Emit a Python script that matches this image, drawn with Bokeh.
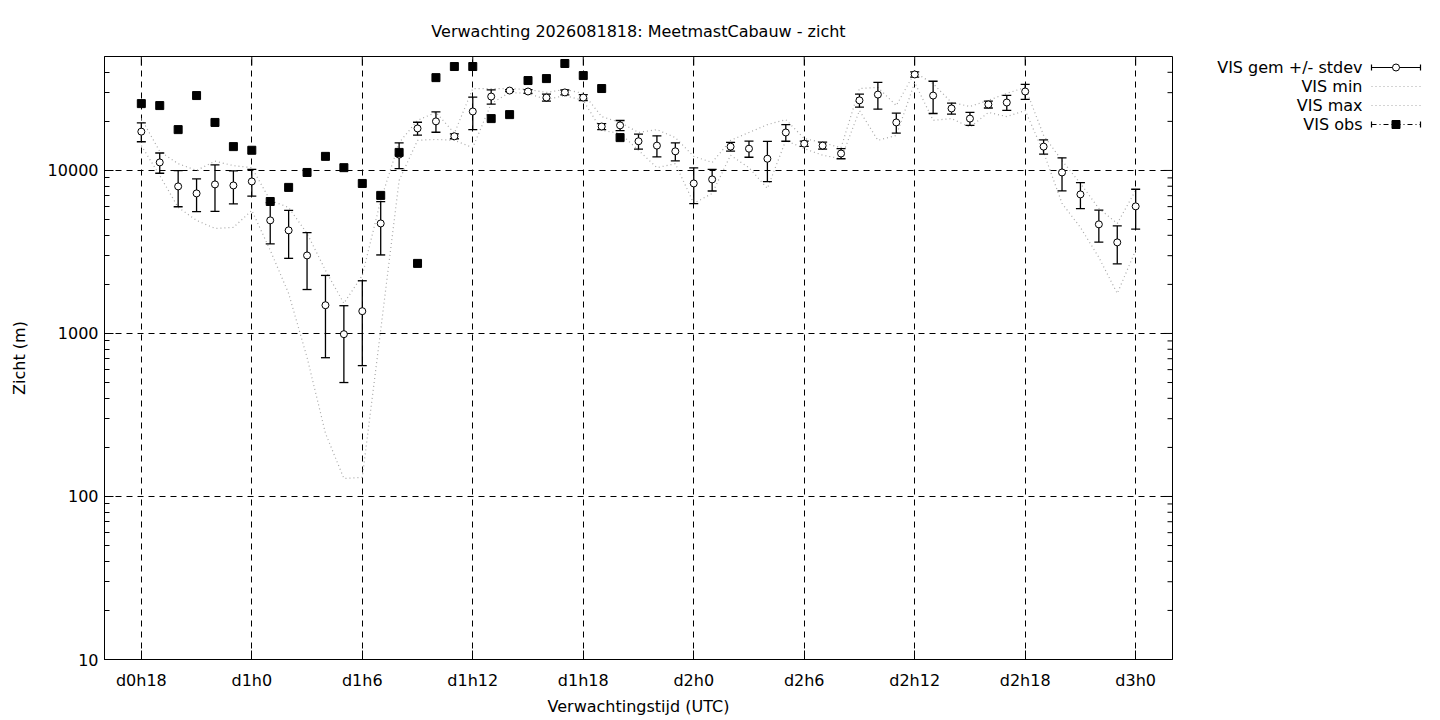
import math
from bokeh.plotting import figure
from bokeh.models import FixedTicker, Range1d, PrintfTickFormatter
from bokeh.layouts import row
from bokeh.embed import file_html
from bokeh.resources import INLINE
from bokeh.core.properties import value

# ---------------- data ----------------
hours = list(range(18, 73))
vis_mean = [17300, 11200, 7980, 7230, 8210, 8090, 8560, 4940, 4290, 3010,
            1490, 990, 1370, 4730, 12500, 18100, 20000, 16200, 23000, 28400,
            30900, 30500, 28000, 30100, 28000, 18600, 18900, 15100, 14200, 13100,
            8320, 8810, 14000, 13600, 11800, 17100, 14600, 14200, 12700, 26900,
            29200, 19700, 38800, 28800, 24000, 20800, 25400, 26100, 30500, 14000,
            9720, 7130, 4670, 3620, 6020]
vis_std = [2300, 1590, 1990, 1640, 2600, 1860, 1600, 1400, 1400, 1150,
           780, 490, 735, 1700, 2250, 1650, 2850, 550, 5200, 2850,
           400, 800, 1400, 1050, 1150, 800, 1350, 1600, 2100, 1650,
           2060, 1330, 850, 1550, 3270, 2000, 550, 700, 900, 2450,
           5450, 2750, 1400, 6450, 1850, 1900, 1250, 2750, 3250, 1400,
           2230, 1300, 1035, 945, 1650]
vis_min = [14200, 9310, 5930, 4940, 4410, 4470, 5690, 3240, 1760, 713,
           244, 129, 131, 1050, 8680, 15300, 15500, 15300, 13800, 25700,
           30100, 29700, 27200, 28800, 26900, 17600, 16900, 13300, 10400, 11000,
           6280, 7230, 12400, 10400, 7760, 15300, 13600, 12400, 11800, 23300,
           15300, 16400, 34600, 20300, 20800, 18400, 22700, 21400, 23300, 12900,
           6280, 4470, 2930, 1760, 3240]
vis_max = [20800, 13100, 11000, 10000, 11400, 10700, 10400, 6550, 5930, 4110,
           2440, 1530, 2270, 6550, 14800, 20300, 22700, 16900, 31800, 31800,
           31800, 31400, 30100, 31400, 29700, 21400, 19700, 17100, 17800, 15900,
           12200, 11200, 15300, 17100, 19100, 20500, 15700, 14800, 13800, 31800,
           32300, 25000, 39900, 34100, 26100, 24700, 26900, 29700, 32300, 16400,
           11500, 8320, 5850, 4730, 7540]
obs_hours = list(range(18, 45))
vis_obs = [25700, 25000, 17800, 28800, 19700, 14000, 13300, 6450, 7870, 9720,
           12200, 10400, 8320, 7030, 12900, 2690, 37100, 43400, 43400, 20800,
           22000, 35600, 36600, 45300, 38200, 31800, 15900]

xtick_pos = [18, 24, 30, 36, 42, 48, 54, 60, 66, 72]
xtick_labels = ["d0h18", "d1h0", "d1h6", "d1h12", "d1h18",
                "d2h0", "d2h6", "d2h12", "d2h18", "d3h0"]
ytick_pos = [10, 100, 1000, 10000]
legend_labels = ["VIS gem +/- stdev", "VIS min", "VIS max", "VIS obs"]
title_text = "Verwachting 2026081818: MeetmastCabauw - zicht"
xlabel = "Verwachtingstijd (UTC)"
ylabel = "Zicht (m)"

X0, X1 = 16, 74
Y0, Y1 = 10, 50000

# ---------------- layout / styling ----------------
FONT = "DejaVu Sans"
FS = "16px"
GRAY = "#a8a8a8"
BL, BT, BB, BR = 104, 56, 60, 8       # borders around the plot frame
FW, FH = 1068, 603                    # frame size
MAIN_W = BL + FW + BR
H = BT + FH + BB
LEG_W = 256

upper = [m + s for m, s in zip(vis_mean, vis_std)]
lower = [m - s for m, s in zip(vis_mean, vis_std)]
yminor = [m * d for d in ytick_pos for m in range(2, 10) if m * d < Y1]

p = figure(width=MAIN_W, height=H, y_axis_type="log",
           x_range=Range1d(X0, X1), y_range=Range1d(Y0, Y1),
           output_backend="svg", toolbar_location=None,
           min_border_left=BL, min_border_right=BR,
           min_border_top=BT, min_border_bottom=BB,
           title=title_text)
p.background_fill_color = "white"
p.border_fill_color = "white"
p.outline_line_color = "black"
p.outline_line_alpha = 1.0
p.outline_line_width = 1

p.title.align = "center"
p.title.text_font = FONT
p.title.text_font_size = FS
p.title.text_font_style = "normal"
p.title.text_color = "black"
p.title.standoff = 32

xticker = FixedTicker(ticks=xtick_pos)
yticker = FixedTicker(ticks=ytick_pos, minor_ticks=yminor)

xa = p.xaxis[0]
xa.ticker = xticker
xa.major_label_overrides = {t: l for t, l in zip(xtick_pos, xtick_labels)}
ya = p.yaxis[0]
ya.ticker = yticker
ya.formatter = PrintfTickFormatter(format="%d")

for ax in (xa, ya):
    ax.major_tick_in = 9
    ax.major_tick_out = 0
    ax.minor_tick_in = 5
    ax.minor_tick_out = 0
    ax.axis_line_color = "black"
    ax.major_tick_line_color = "black"
    ax.minor_tick_line_color = "black"
    ax.major_label_text_font = FONT
    ax.major_label_text_font_size = FS
    ax.major_label_text_color = "black"
    ax.axis_label_text_font = FONT
    ax.axis_label_text_font_size = FS
    ax.axis_label_text_font_style = "normal"
    ax.axis_label_text_color = "black"
xa.axis_label = xlabel
ya.axis_label = ylabel
xa.major_label_standoff = 11
xa.axis_label_standoff = 4
ya.major_label_standoff = 6
ya.axis_label_standoff = 16

for g in (p.xgrid[0], p.ygrid[0]):
    g.grid_line_color = "black"
    g.grid_line_dash = "6 5"
    g.grid_line_width = 1
    g.grid_line_alpha = 1.0
p.xgrid[0].ticker = xticker
p.ygrid[0].ticker = FixedTicker(ticks=ytick_pos)

# mirrored tick marks on the right and top border (half of each dash is clipped by the frame)
p.scatter([X1] * len(ytick_pos), ytick_pos, marker="dash", size=18, line_color="black", line_width=1)
p.scatter([X1] * len(yminor), yminor, marker="dash", size=10, line_color="black", line_width=1)
p.scatter(xtick_pos, [Y1] * len(xtick_pos), marker="dash", size=18, angle=math.pi / 2,
          line_color="black", line_width=1)

# min / max
p.line(hours, vis_min, line_color=GRAY, line_dash="1 3", line_width=1.2)
p.line(hours, vis_max, line_color=GRAY, line_dash="1 3", line_width=1.2)

# error bars
p.segment(x0=hours, y0=lower, x1=hours, y1=upper, line_color="black", line_width=1.3)
p.scatter(hours, upper, marker="dash", size=9, line_color="black", line_width=1.3)
p.scatter(hours, lower, marker="dash", size=9, line_color="black", line_width=1.3)
p.scatter(hours, vis_mean, marker="circle", size=7, fill_color="white",
          line_color="black", line_width=1)

# observations
p.scatter(obs_hours, vis_obs, marker="square", size=8, fill_color="black", line_color="black")

# ---------------- legend panel (its frame spans the same rows as the main frame;
# coordinates are page pixels) ----------------
lg = figure(width=LEG_W, height=H,
            x_range=Range1d(MAIN_W, MAIN_W + LEG_W), y_range=Range1d(BT + FH, BT),
            output_backend="svg", toolbar_location=None,
            min_border_left=0, min_border_right=0, min_border_top=BT, min_border_bottom=BB,
            x_axis_location=None, y_axis_location=None)
lg.outline_line_color = None
lg.xgrid.visible = False
lg.ygrid.visible = False
lg.background_fill_color = "white"
lg.border_fill_color = "white"

rows_y = [67, 86, 105, 124]
tx = 1362
sx0, sx1 = 1371, 1420
smid = (sx0 + sx1) / 2
lg.text(x=[tx] * 4, y=rows_y, text=legend_labels, text_align="right",
        text_baseline="middle", text_font=value(FONT), text_font_size=value(FS),
        text_color="black")
# mean +/- stdev sample
y0 = rows_y[0]
lg.segment(x0=[sx0], y0=[y0], x1=[sx1], y1=[y0], line_color="black", line_width=1.2)
lg.segment(x0=[sx0, sx1], y0=[y0 - 3, y0 - 3], x1=[sx0, sx1], y1=[y0 + 3, y0 + 3],
           line_color="black", line_width=1.2)
lg.scatter([smid], [y0], marker="circle", size=7, fill_color="white", line_color="black")
# min / max
for yy in rows_y[1:3]:
    lg.segment(x0=[sx0], y0=[yy], x1=[sx1], y1=[yy], line_color=GRAY,
               line_dash="1 3", line_width=1.2)
# obs sample
y3 = rows_y[3]
lg.segment(x0=[sx0], y0=[y3], x1=[sx1], y1=[y3], line_color="black",
           line_dash="5 3 1 3", line_width=1.2)
lg.segment(x0=[sx0, sx1], y0=[y3 - 3, y3 - 3], x1=[sx0, sx1], y1=[y3 + 3, y3 + 3],
           line_color="black", line_width=1.2)
lg.scatter([smid], [y3], marker="square", size=8, fill_color="black", line_color="black")

layout = row(p, lg)
open("out.html", "w").write(file_html(layout, INLINE))
